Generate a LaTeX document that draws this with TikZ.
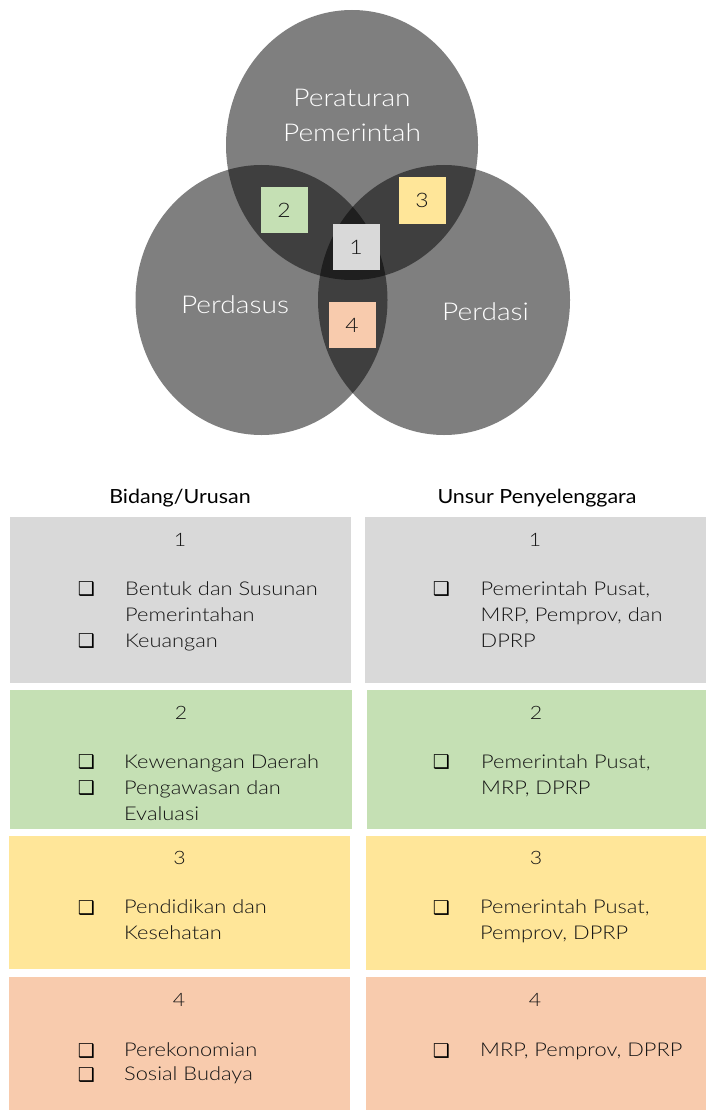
\documentclass[tikz,border=0pt]{standalone}
\usepackage{fontspec}
\setmainfont{Lato Light}[FakeStretch=1.15]
\newfontfamily\headfont{Lato}[FakeStretch=1.1]
\newfontfamily\symfont{DejaVu Sans}
\usetikzlibrary{shapes.geometric}

\definecolor{gone}{HTML}{D9D9D9}
\definecolor{gtwo}{HTML}{C5E0B4}
\definecolor{gthree}{HTML}{FFE699}
\definecolor{gfour}{HTML}{F8CBAD}
\definecolor{txt}{HTML}{141414}

\tikzset{
  venn/.style={ellipse, fill=black, fill opacity=0.5, draw=none,
    minimum width=252pt, minimum height=270pt, inner sep=0pt, outer sep=0pt},
  vlabel/.style={anchor=base, inner sep=0pt, text=white,
    font=\fontsize{24.5}{28}\selectfont},
  tag/.style={minimum width=47pt, minimum height=46pt, inner sep=0pt,
    text=txt, font=\fontsize{20}{24}\selectfont},
  cell/.style={inner sep=0pt, draw=none},
  head/.style={anchor=base, inner sep=0pt, text=black,
    font=\headfont\fontsize{19.5}{23}\selectfont},
  num/.style={anchor=base, inner sep=0pt, text=txt,
    font=\fontsize{18.5}{22}\selectfont},
  itemtext/.style={anchor=base west, inner sep=0pt, text=txt,
    font=\fontsize{19}{22}\selectfont},
  chk/.style={anchor=base, inner sep=0pt, text=black,
    font=\symfont\fontsize{19}{22}\selectfont},
}

\begin{document}
\begin{tikzpicture}[x=1pt,y=-1pt]
\useasboundingbox (0,0) rectangle (706,1110);

% three overlapping regulation circles
\node[venn] (pp)  at (352,145) {};
\node[venn] (pds) at (261.5,300) {};
\node[venn] (pdi) at (444,300) {};

\node[vlabel] (ppa) at (352,107) {Peraturan};
\node[vlabel] (ppb) at (352,141.5) {Pemerintah};
\node[vlabel] (pdsl) at (235,313) {Perdasus};
\node[vlabel] (pdil) at (485.5,320.5) {Perdasi};

% numbered intersection tags
\node[tag, fill=gtwo]   (t2) at (284,210) {2};
\node[tag, fill=gthree] (t3) at (422,200.5) {3};
\node[tag, fill=gone]   (t1) at (356,247) {1};
\node[tag, fill=gfour]  (t4) at (352,325) {4};

% column headers
\node[head] (hl) at (180,503) {Bidang/Urusan};
\node[head] (hr) at (537,503) {Unsur Penyelenggara};

% table cells
\node[cell, fill=gone, minimum width=341pt, minimum height=166pt] (c1l) at (180.5,600) {};
\node[cell, fill=gone, minimum width=341pt, minimum height=166pt] (c1r) at (535.5,600) {};
\node[cell, fill=gtwo, minimum width=342pt, minimum height=139pt] (c2l) at (181,759.5) {};
\node[cell, fill=gtwo, minimum width=339pt, minimum height=139pt] (c2r) at (536.5,759.5) {};
\node[cell, fill=gthree, minimum width=341pt, minimum height=133pt] (c3l) at (179.5,902.5) {};
\node[cell, fill=gthree, minimum width=340pt, minimum height=134pt] (c3r) at (536,903) {};
\node[cell, fill=gfour, minimum width=341pt, minimum height=133pt] (c4l) at (179.5,1043.5) {};
\node[cell, fill=gfour, minimum width=340pt, minimum height=133pt] (c4r) at (536,1043.5) {};

% row 1
\node[num] (n1l) at (180,546) {1};
\node[num] (n1r) at (535,546) {1};
\node[chk] (k1la) at (86.5,595.5) {❑};
\node[itemtext] (i1la) at (125,595) {Bentuk dan Susunan};
\node[itemtext] (i1lb) at (125,621) {Pemerintahan};
\node[chk] (k1lb) at (86.5,647.5) {❑};
\node[itemtext] (i1lc) at (125,647) {Keuangan};
\node[chk] (k1ra) at (441.5,595.5) {❑};
\node[itemtext] (i1ra) at (480.5,595) {Pemerintah Pusat,};
\node[itemtext] (i1rb) at (480.5,621) {MRP, Pemprov, dan};
\node[itemtext] (i1rc) at (480.5,647) {DPRP};

% row 2
\node[num] (n2l) at (181,719) {2};
\node[num] (n2r) at (536,719) {2};
\node[chk] (k2la) at (86.5,768.5) {❑};
\node[itemtext] (i2la) at (124,768) {Kewenangan Daerah};
\node[chk] (k2lb) at (86.5,794.5) {❑};
\node[itemtext] (i2lb) at (124,794) {Pengawasan dan};
\node[itemtext] (i2lc) at (124,820) {Evaluasi};
\node[chk] (k2ra) at (441.5,768.5) {❑};
\node[itemtext] (i2ra) at (481,768) {Pemerintah Pusat,};
\node[itemtext] (i2rb) at (481,794) {MRP, DPRP};

% row 3
\node[num] (n3l) at (179.5,864) {3};
\node[num] (n3r) at (536,864) {3};
\node[chk] (k3la) at (86.5,914) {❑};
\node[itemtext] (i3la) at (124,913.5) {Pendidikan dan};
\node[itemtext] (i3lb) at (124,939.5) {Kesehatan};
\node[chk] (k3ra) at (441.5,914) {❑};
\node[itemtext] (i3ra) at (480,913.5) {Pemerintah Pusat,};
\node[itemtext] (i3rb) at (480,939.5) {Pemprov, DPRP};

% row 4
\node[num] (n4l) at (179,1006.5) {4};
\node[num] (n4r) at (535,1006.5) {4};
\node[chk] (k4la) at (86.5,1057) {❑};
\node[itemtext] (i4la) at (124,1056.5) {Perekonomian};
\node[chk] (k4lb) at (86.5,1081) {❑};
\node[itemtext] (i4lb) at (124,1080.5) {Sosial Budaya};
\node[chk] (k4ra) at (441.5,1057) {❑};
\node[itemtext] (i4ra) at (480,1056.5) {MRP, Pemprov, DPRP};
\end{tikzpicture}
\end{document}
